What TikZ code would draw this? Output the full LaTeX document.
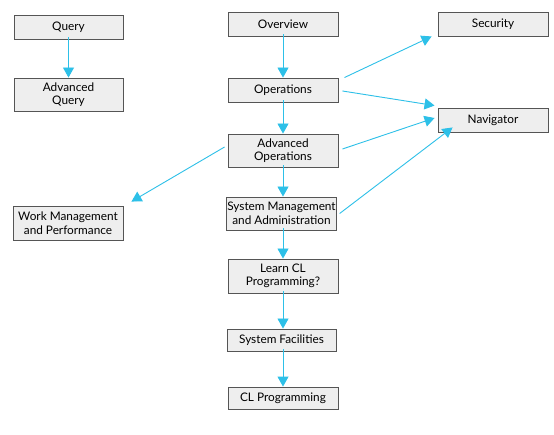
\documentclass[tikz,border=0pt]{standalone}
\usepackage{fontspec}
\setmainfont{Lato}
\usetikzlibrary{arrows.meta,calc}
\definecolor{arrowc}{RGB}{45,192,232}
\definecolor{boxfill}{RGB}{238,238,238}
\definecolor{boxline}{RGB}{85,85,85}
\begin{document}
\begin{tikzpicture}[x=1pt,y=-1pt,
  box/.style={draw=boxline, fill=boxfill, line width=0.9pt, inner sep=0.5pt, align=center,
    font=\fontsize{11.8}{13.5}\selectfont, text=black},
  arr/.style={draw=arrowc, line width=0.9pt, -{Triangle[width=11pt,length=10pt]}}]
\useasboundingbox (0,0) rectangle (554,435);
\fill[white] (0,0) rectangle (554,435);
% left column
\node[box, minimum width=109pt, minimum height=24pt] (query) at (68.5,27) {Query};
\node[box, minimum width=109pt, minimum height=33pt] (advq) at (68.5,94.5) {Advanced\\Query};
\node[box, minimum width=110pt, minimum height=34pt] (work) at (68,223) {Work Management\\and Performance};
% middle column
\node[box, minimum width=110pt, minimum height=24pt] (ov) at (283,24) {Overview};
\node[box, minimum width=110pt, minimum height=24pt] (ops) at (283,90) {Operations};
\node[box, minimum width=110pt, minimum height=33pt] (advops) at (283,150.5) {Advanced\\Operations};
\node[box, minimum width=109pt, minimum height=33pt] (sysm) at (281.5,213.5) {System Management\\and Administration};
\node[box, minimum width=110pt, minimum height=34pt] (learn) at (283,276) {Learn CL\\Programming?};
\node[box, minimum width=109pt, minimum height=22pt] (sysf) at (281.5,340) {System Facilities};
\node[box, minimum width=110pt, minimum height=22pt] (clp) at (283,398) {CL Programming};
% right column
\node[box, minimum width=110pt, minimum height=24pt] (sec) at (493,24) {Security};
\node[box, minimum width=110pt, minimum height=24pt] (nav) at (493,120) {Navigator};
% vertical arrows
\draw[arr] ([yshift=2pt]query.south) -- (advq.north);
\draw[arr] ([yshift=2pt]ov.south) -- (ops.north);
\draw[arr] ([yshift=2pt]ops.south) -- (advops.north);
\draw[arr] ([yshift=2pt]advops.south) -- ([xshift=1.5pt]sysm.north);
\draw[arr] ([shift={(1.5pt,2pt)}]sysm.south) -- (learn.north);
\draw[arr] ([yshift=2pt]learn.south) -- ([xshift=1.5pt]sysf.north);
\draw[arr] ([shift={(1.5pt,2pt)}]sysf.south) -- (clp.north);
% diagonal arrows
\draw[arr] ([xshift=6pt]ops.north east) -- ([xshift=-6pt]sec.south west);
\draw[arr] ([shift={(4pt,-1pt)}]ops.east) -- ([shift={(-3pt,2pt)}]nav.north west);
\draw[arr] ([shift={(4pt,1.5pt)}]advops.east) -- ([shift={(-3pt,2pt)}]nav.west);
\draw[arr] ([shift={(3pt,0pt)}]sysm.east) -- ([shift={(15pt,5pt)}]nav.south west);
\draw[arr] ([shift={(-3pt,3.5pt)}]advops.west) -- ([shift={(8pt,4pt)}]work.north east);
\end{tikzpicture}
\end{document}
